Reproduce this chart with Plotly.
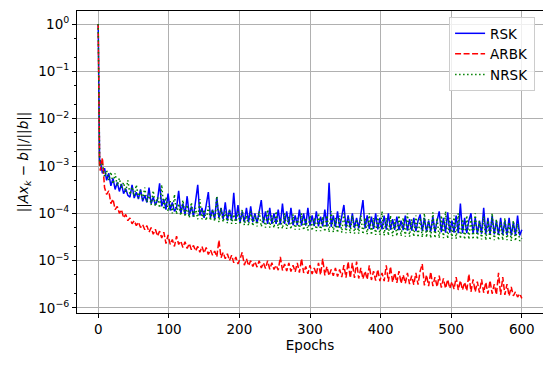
import plotly.graph_objects as go

# ===========================================================
# DATA (read off the figure, sampled every 3 epochs)
# ===========================================================
epochs = [0, 1, 2] + list(range(3, 601, 3))

rsk = [1.0, 2.5e-3, 1.3e-3,
       1.3e-3, 7e-4, 9e-4, 5e-4, 7e-4, 3.8e-4, 5.5e-4, 3.2e-4, 4.5e-4, 2.9e-4,
       4.2e-4, 2.6e-4, 3.3e-4, 2.4e-4, 2.2e-4, 4e-4, 2.1e-4, 2.8e-4, 2e-4, 3.2e-4,
       1.8e-4, 2.4e-4, 1.7e-4, 3.5e-4, 1.6e-4, 2.2e-4, 1.5e-4, 1.9e-4, 4.3e-4, 1.4e-4,
       2e-4, 1.2e-4, 2.6e-4, 1.15e-4, 1.7e-4, 1.1e-4, 1.3e-4, 3e-4, 1e-4, 1.6e-4,
       9.5e-5, 2.3e-4, 9e-5, 1.4e-4, 8.5e-5, 1.9e-4, 4e-4, 9e-5, 1.3e-4, 8e-5,
       1.5e-4, 2.8e-4, 8e-5, 1.2e-4, 7.5e-5, 2.2e-4, 8e-5, 1.3e-4, 7.5e-5, 1.7e-4,
       7e-5, 1.2e-4, 7e-5, 2.7e-4, 7e-5, 1.5e-4, 6.5e-5, 1.1e-4, 6.5e-5, 1.3e-4,
       6.5e-5, 1.4e-4, 6.5e-5, 1e-4, 6.2e-5, 1.2e-4, 1.9e-4, 6.2e-5, 1.1e-4, 6e-5,
       1.3e-4, 6e-5, 1e-4, 6e-5, 1.2e-4, 5.8e-5, 1.6e-4, 6e-5, 1.1e-4, 5.8e-5,
       1.3e-4, 5.6e-5, 9e-5, 5.6e-5, 1.2e-4, 5.5e-5, 1e-4, 5.5e-5, 1.3e-4, 5.5e-5,
       9e-5, 5.4e-5, 1.1e-4, 5.3e-5, 8.5e-5, 5.3e-5, 1.2e-4, 5.2e-5, 4.4e-4, 5.2e-5,
       9e-5, 5.1e-5, 1.1e-4, 5e-5, 8e-5, 1.5e-4, 5e-5, 9e-5, 4.9e-5, 1e-4,
       4.9e-5, 8e-5, 4.8e-5, 1.1e-4, 1.9e-4, 4.8e-5, 9e-5, 4.7e-5, 8.5e-5, 4.7e-5,
       1e-4, 4.6e-5, 8e-5, 4.6e-5, 9e-5, 4.5e-5, 1e-4, 4.5e-5, 7.5e-5, 4.5e-5,
       8.5e-5, 4.4e-5, 7e-5, 4.4e-5, 9e-5, 4.3e-5, 7.5e-5, 4.3e-5, 8e-5, 4.2e-5,
       7e-5, 9.5e-5, 4.2e-5, 8e-5, 4.1e-5, 7e-5, 4.1e-5, 8.5e-5, 4e-5, 7e-5,
       1.1e-4, 4e-5, 8e-5, 3.9e-5, 1.05e-4, 3.9e-5, 7e-5, 3.9e-5, 9e-5, 3.8e-5,
       1.6e-4, 3.8e-5, 8e-5, 3.8e-5, 7e-5, 1e-4, 3.7e-5, 8e-5, 3.7e-5, 7e-5,
       3.7e-5, 1.3e-4, 3.6e-5, 8e-5, 3.6e-5, 9e-5, 3.6e-5, 7e-5, 3.5e-5, 8e-5,
       3.5e-5, 7e-5, 3.5e-5, 8e-5, 3.4e-5, 6.5e-5, 3.4e-5, 9e-5, 3.4e-5, 4.5e-5]

arbk = [1.0, 2e-3, 1.1e-3,
        8e-4, 1.5e-3, 3.5e-4, 2.5e-4, 3e-4, 1.6e-4, 2e-4, 1.2e-4, 1.4e-4, 1e-4,
        1.2e-4, 8e-5, 9.5e-5, 7e-5, 8e-5, 6e-5, 7e-5, 5.5e-5, 6.5e-5, 5e-5,
        5.8e-5, 4.5e-5, 5.5e-5, 4e-5, 5e-5, 3.6e-5, 4.6e-5, 3.3e-5, 4.2e-5, 3e-5,
        4e-5, 2.3e-5, 3.5e-5, 2.2e-5, 2.8e-5, 2e-5, 3.3e-5, 2.2e-5, 2.6e-5, 1.9e-5,
        2.5e-5, 1.8e-5, 2.3e-5, 1.7e-5, 2.1e-5, 1.6e-5, 2e-5, 1.5e-5, 2e-5, 1.45e-5,
        1.9e-5, 1.35e-5, 1.7e-5, 1.3e-5, 1.6e-5, 1.2e-5, 2.7e-5, 1.15e-5, 1.5e-5, 1.1e-5,
        1.4e-5, 1e-5, 1.3e-5, 9e-6, 1.2e-5, 8.5e-6, 1.1e-5, 1.5e-5, 8e-6, 1.1e-5,
        7.8e-6, 1e-5, 7.5e-6, 9.5e-6, 7.3e-6, 1e-5, 7e-6, 9e-6, 6.8e-6, 1e-5,
        6.6e-6, 9e-6, 6.5e-6, 8e-6, 6.3e-6, 1.2e-5, 6.2e-6, 8.5e-6, 6e-6, 9e-6,
        5.9e-6, 8e-6, 5.8e-6, 9e-6, 5.6e-6, 1.1e-5, 5.5e-6, 7.5e-6, 5.3e-6, 8e-6,
        5.2e-6, 7e-6, 5.1e-6, 9e-6, 5e-6, 1.1e-5, 4.9e-6, 7.5e-6, 4.8e-6, 6.5e-6,
        4.8e-6, 7e-6, 4.6e-6, 6.5e-6, 4.5e-6, 8e-6, 4.4e-6, 9.5e-6, 4.3e-6, 9e-6,
        4.3e-6, 9.5e-6, 4.2e-6, 7e-6, 4.1e-6, 6e-6, 4e-6, 8e-6, 3.9e-6, 6e-6,
        3.8e-6, 6.5e-6, 3.7e-6, 5.5e-6, 3.7e-6, 8e-6, 3.6e-6, 7.5e-6, 3.5e-6, 5.5e-6,
        3.4e-6, 6e-6, 3.3e-6, 5e-6, 3.3e-6, 5.5e-6, 3.2e-6, 4.8e-6, 3.1e-6, 5.5e-6,
        3.1e-6, 6e-6, 8.5e-6, 3e-6, 5e-6, 2.9e-6, 5.8e-6, 2.9e-6, 4.5e-6, 2.8e-6,
        4.8e-6, 2.7e-6, 4.2e-6, 2.6e-6, 4e-6, 2.6e-6, 3.6e-6, 2.5e-6, 4.5e-6, 2.4e-6,
        3.8e-6, 2.4e-6, 3.5e-6, 2.3e-6, 5.2e-6, 2.2e-6, 4e-6, 2.2e-6, 3.6e-6, 2.1e-6,
        4e-6, 2.1e-6, 3.5e-6, 2e-6, 3.8e-6, 2e-6, 3.2e-6, 1.9e-6, 5.5e-6, 1.9e-6,
        4.5e-6, 1.9e-6, 3.2e-6, 1.8e-6, 2.8e-6, 1.8e-6, 2.2e-6, 1.7e-6, 2e-6, 1.6e-6]

nrsk = [1.0, 3e-3, 1.5e-3,
        1e-3, 1.1e-3, 6e-4, 8e-4, 5e-4, 7.5e-4, 4.2e-4, 7e-4, 3.8e-4, 5.5e-4,
        3.4e-4, 4.5e-4, 2.8e-4, 5e-4, 2.5e-4, 3.6e-4, 2.3e-4, 4e-4, 2.1e-4, 3e-4,
        2e-4, 3.5e-4, 1.7e-4, 2.6e-4, 1.5e-4, 3e-4, 1.4e-4, 2.2e-4, 1.3e-4, 4e-4,
        1.2e-4, 2.2e-4, 1.1e-4, 1.8e-4, 1e-4, 2.5e-4, 9.5e-5, 1.6e-4, 9e-5, 1.9e-4,
        8.5e-5, 1.5e-4, 8e-5, 1.7e-4, 8e-5, 1.3e-4, 7.5e-5, 2e-4, 7.5e-5, 1.2e-4,
        7e-5, 1.4e-4, 7e-5, 1.2e-4, 6.8e-5, 2.3e-4, 6.5e-5, 1.3e-4, 6.5e-5, 1.1e-4,
        6.2e-5, 1.2e-4, 6e-5, 9.5e-5, 6e-5, 1.1e-4, 5.8e-5, 1.2e-4, 5.6e-5, 9e-5,
        5.5e-5, 1.1e-4, 5.4e-5, 9e-5, 5.3e-5, 1.1e-4, 5.2e-5, 8.5e-5, 5e-5, 1.2e-4,
        5e-5, 9e-5, 4.9e-5, 1.1e-4, 4.8e-5, 8e-5, 4.7e-5, 1e-4, 4.7e-5, 8.5e-5,
        4.6e-5, 9.5e-5, 4.5e-5, 8e-5, 4.5e-5, 1e-4, 4.4e-5, 8e-5, 4.3e-5, 9e-5,
        4.3e-5, 8e-5, 4.2e-5, 1e-4, 4.2e-5, 8.5e-5, 4.1e-5, 9e-5, 4e-5, 1.1e-4,
        4e-5, 8e-5, 3.9e-5, 9e-5, 3.9e-5, 1e-4, 3.8e-5, 8e-5, 3.8e-5, 9e-5,
        3.7e-5, 7.5e-5, 3.7e-5, 9e-5, 3.6e-5, 8e-5, 3.6e-5, 1e-4, 3.5e-5, 8e-5,
        3.5e-5, 9e-5, 3.5e-5, 1.1e-4, 3.4e-5, 8e-5, 3.4e-5, 9e-5, 3.3e-5, 7.5e-5,
        3.3e-5, 9e-5, 3.3e-5, 8e-5, 3.2e-5, 1e-4, 3.2e-5, 7.5e-5, 3.2e-5, 9e-5,
        3.1e-5, 8e-5, 3.1e-5, 1e-4, 3.1e-5, 7.5e-5, 3e-5, 1.05e-4, 3e-5, 8e-5,
        3e-5, 9e-5, 3e-5, 1.1e-4, 2.9e-5, 8e-5, 2.9e-5, 9e-5, 2.9e-5, 1e-4,
        2.9e-5, 7.5e-5, 2.8e-5, 9e-5, 2.8e-5, 8e-5, 2.8e-5, 1e-4, 2.8e-5, 7e-5,
        2.8e-5, 8.5e-5, 2.7e-5, 7e-5, 2.7e-5, 1e-4, 2.7e-5, 7.5e-5, 2.7e-5, 6.5e-5,
        2.7e-5, 8e-5, 2.7e-5, 6.5e-5, 2.6e-5, 7e-5, 2.6e-5, 6e-5, 2.6e-5, 3e-5]

x_ticks = [0, 100, 200, 300, 400, 500, 600]
y_exps = [0, -1, -2, -3, -4, -5, -6]

# ===========================================================
# FIGURE
# ===========================================================
fig = go.Figure()
fig.add_trace(go.Scatter(x=epochs, y=rsk, mode='lines', name='RSK',
                         line=dict(color='blue', width=1.5)))
fig.add_trace(go.Scatter(x=epochs, y=arbk, mode='lines', name='ARBK',
                         line=dict(color='red', width=1.5, dash='6px,2.5px')))
fig.add_trace(go.Scatter(x=epochs, y=nrsk, mode='lines', name='NRSK',
                         line=dict(color='green', width=1.5, dash='1.5px,2.5px')))

# the page body keeps the browser's 8px margin, so the figure is 8px smaller
font = dict(family='DejaVu Sans', size=13.5, color='black')
fig.update_layout(
    width=543, height=357,
    margin=dict(l=69, r=8, t=3, b=52),
    plot_bgcolor='white', paper_bgcolor='white',
    font=font,
    legend=dict(x=0.983, y=0.98, xanchor='right', yanchor='top',
                bordercolor='#cccccc', borderwidth=1, tracegroupgap=0,
                bgcolor='rgba(255,255,255,0.8)', font=font),
)
fig.update_xaxes(
    range=[-30, 630], tickvals=x_ticks, automargin=False,
    showline=True, linecolor='black', linewidth=1, mirror=True,
    ticks='outside', ticklen=4, tickcolor='black', tickfont=font,
    showgrid=True, gridcolor='#b0b0b0', gridwidth=1, zeroline=False,
    title=dict(text='Epochs', font=font, standoff=4),
)
fig.update_yaxes(
    type='log', range=[-6.106, 0.275], automargin=False,
    tickvals=[10 ** e for e in y_exps],
    ticktext=['10<sup>%s</sup>' % (str(e).replace('-', '\u2212')) for e in y_exps],
    showline=True, linecolor='black', linewidth=1, mirror=True,
    ticks='outside', ticklen=4, tickcolor='black', tickfont=font,
    minor=dict(ticks='outside', ticklen=2, tickcolor='black', showgrid=False),
    showgrid=True, gridcolor='#b0b0b0', gridwidth=1, zeroline=False,
    title=dict(text='||<i>Ax</i><sub><i>k</i></sub> \u2212 <i>b</i>||/||<i>b</i>||',
               font=font, standoff=6),
)

fig.write_html("out.html")
